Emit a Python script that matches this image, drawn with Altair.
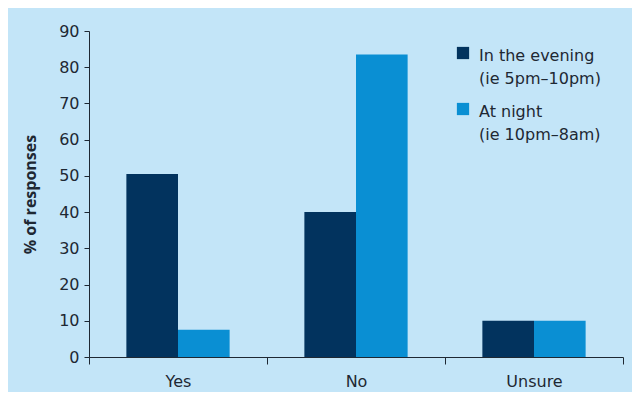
import altair as alt
import pandas as pd

categories = ["Yes", "No", "Unsure"]
series = ["In the evening|(ie 5pm\u201310pm)", "At night|(ie 10pm\u20138am)"]
evening = [50.5, 40.0, 10.0]
night = [7.5, 83.5, 10.0]
colors = ["#02335e", "#0a8fd3"]

rows = []
for c, e, n in zip(categories, evening, night):
    rows.append({"cat": c, "series": series[0], "value": e})
    rows.append({"cat": c, "series": series[1], "value": n})
df = pd.DataFrame(rows)

FONT = "DejaVu Sans"
TXT = "#1e2833"
BG = "#c3e5f8"
DY = -5

chart = alt.Chart(df).mark_bar().encode(
    x=alt.X("cat:N", sort=categories, title=None,
            scale=alt.Scale(paddingInner=0, paddingOuter=0),
            axis=alt.Axis(tickBand="extent", labelAngle=0, labelFontSize=16,
                          labelPadding=9 - DY, tickSize=7, domainColor=TXT,
                          tickColor=TXT, labelColor=TXT, labelFont=FONT)),
    xOffset=alt.XOffset("series:N", sort=series,
                        scale=alt.Scale(paddingInner=0, paddingOuter=0.724)),
    y=alt.Y("value:Q", title="% of responses",
            scale=alt.Scale(domain=[0, 90], nice=False),
            axis=alt.Axis(values=list(range(0, 100, 10)), grid=False,
                          labelFontSize=16, labelPadding=5, tickSize=5,
                          labelOffset=-DY,
                          titleFontSize=16, titleFont="Open Sans", titleColor=TXT,
                          titleFontWeight="bold", titlePadding=20,
                          domainColor=TXT, tickColor=TXT, labelColor=TXT,
                          labelFont=FONT)),
    color=alt.Color("series:N", sort=series,
                    scale=alt.Scale(domain=series, range=colors),
                    legend=alt.Legend(title=None, orient="none",
                                      legendX=366, legendY=14,
                                      symbolType="square", symbolSize=150,
                                      symbolStrokeWidth=0,
                                      labelExpr="split(datum.label, '|')",
                                      labelFontSize=16, labelFont=FONT,
                                      labelColor=TXT,
                                      labelBaseline="top", labelOffset=8,
                                      rowPadding=14, labelLimit=300)),
).properties(
    width=534, height=326, background=BG,
    padding={"left": 81, "top": 23, "right": 9, "bottom": 35},
    autosize=alt.AutoSizeParams(type="none"),
).configure(
    style={"guide-label": {"lineHeight": 23, "dy": DY}}
).configure_view(stroke=None).configure_axis(domainWidth=1, tickWidth=1)

chart.save("out.html", embed_options={"renderer": "svg", "actions": False})
